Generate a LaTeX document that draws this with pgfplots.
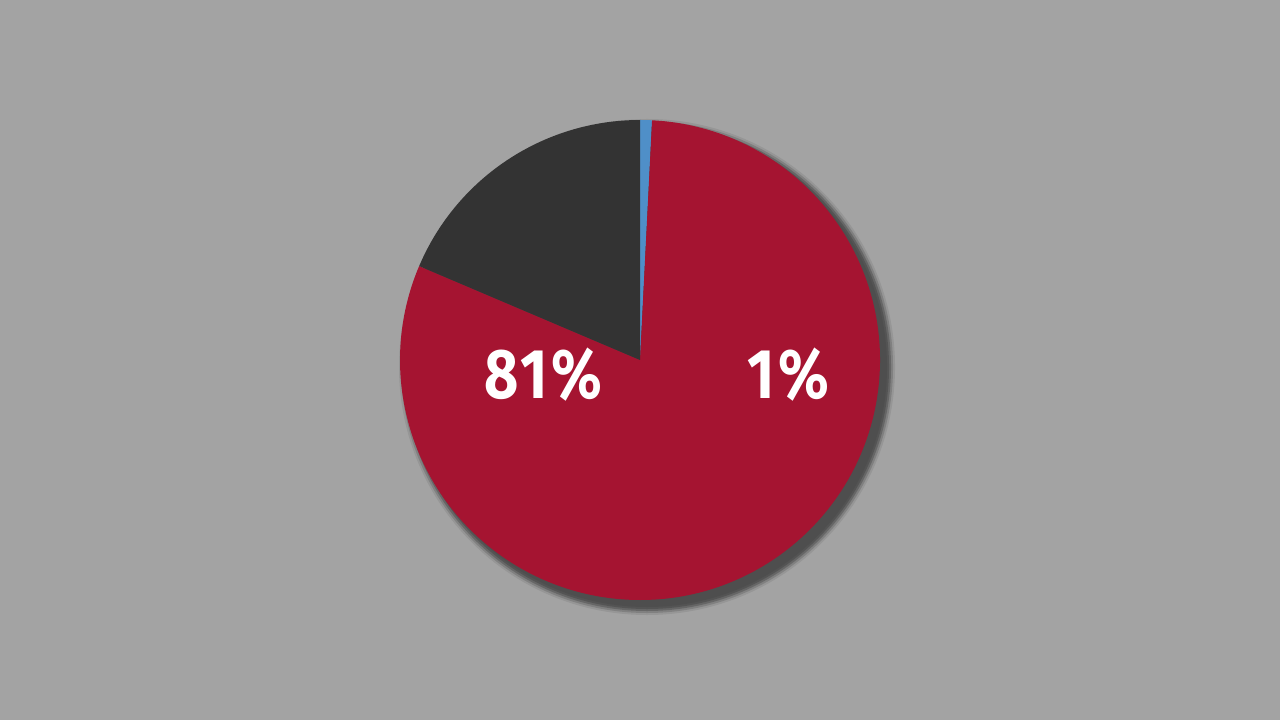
\documentclass[border=0pt]{standalone}
\usepackage{pgfplots}
\pgfplotsset{compat=1.18}
\usepackage{graphicx}
\usepackage{fontspec}
\setmainfont{Fira Sans}
\newfontfamily\labelfont[LetterSpace=6]{Fira Sans}
\definecolor{bggray}{HTML}{A3A3A3}
\definecolor{piered}{HTML}{A51431}
\definecolor{piedark}{HTML}{333333}
\definecolor{pieblue}{HTML}{4F8FC8}
\definecolor{shadow}{HTML}{4E4E4E}

% slice shares in percent, clockwise from 12 o'clock
\pgfplotstableread{
name  value
blue  0.8
red   80.6
dark  18.6
}\slices

\begin{document}
\begin{tikzpicture}
  \pgfplotstablegetelem{0}{value}\of\slices \let\vblue\pgfplotsretval
  \pgfplotstablegetelem{1}{value}\of\slices \let\vred\pgfplotsretval
  \pgfplotstablegetelem{2}{value}\of\slices \let\vdark\pgfplotsretval
  \pgfmathsetmacro{\aA}{90}
  \pgfmathsetmacro{\aB}{\aA-3.6*\vblue}
  \pgfmathsetmacro{\aC}{\aB-3.6*\vred}
  \pgfmathsetmacro{\aD}{\aC-3.6*\vdark}
  \begin{axis}[
      scale only axis,
      width=12.8cm, height=7.2cm,
      xmin=0, xmax=1280, ymin=0, ymax=720,
      hide axis,
      axis background/.style={fill=bggray},
      clip=false,
    ]
    % soft shadow
    \fill[shadow, opacity=0.15] (axis cs:647,353) circle[radius=2.48cm];
    \fill[shadow, opacity=0.3] (axis cs:647,353) circle[radius=2.46cm];
    \fill[shadow, opacity=0.5] (axis cs:647,353) circle[radius=2.44cm];
    \fill[shadow, opacity=0.75] (axis cs:647,353) circle[radius=2.42cm];
    \fill[shadow] (axis cs:647,353) circle[radius=2.40cm];
    \fill[pieblue] (axis cs:640,360) -- ++(\aA:2.4cm) arc[start angle=\aA, end angle=\aB, radius=2.4cm] -- cycle;
    \fill[piered] (axis cs:640,360) -- ++(\aB:2.4cm) arc[start angle=\aB, end angle=\aC, radius=2.4cm] -- cycle;
    \fill[piedark] (axis cs:640,360) -- ++(\aC:2.4cm) arc[start angle=\aC, end angle=\aD, radius=2.4cm] -- cycle;
    \node[white, font=\labelfont\fontsize{20}{24}\bfseries\selectfont] at (axis cs:543,345)
      {\scalebox{0.84}[1]{81\%}};
    \node[white, font=\labelfont\fontsize{20}{24}\bfseries\selectfont] at (axis cs:788,345)
      {\scalebox{0.84}[1]{1\%}};
  \end{axis}
\end{tikzpicture}
\end{document}
